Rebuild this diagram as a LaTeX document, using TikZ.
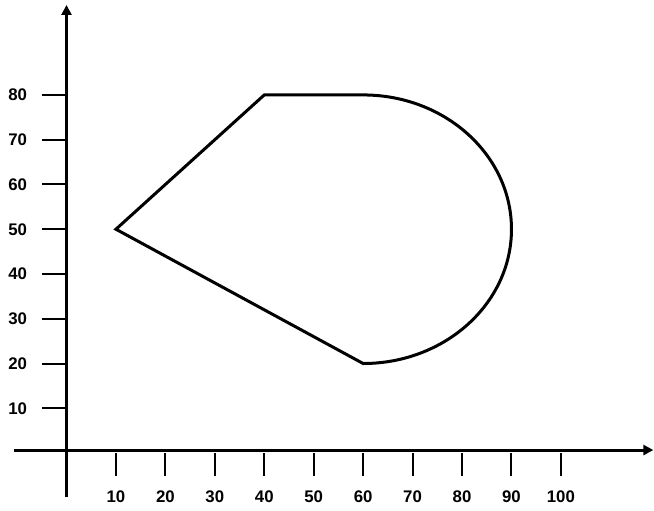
\documentclass[tikz,border=0pt]{standalone}
\usepackage{fontspec}
\setmainfont{Liberation Sans}
\usetikzlibrary{arrows.meta}

\begin{document}
\begin{tikzpicture}[
    x=2.472pt, y=2.238pt,
    >={Triangle[length=5pt,width=5pt]},
    axisline/.style={line width=1.5pt},
    tickmark/.style={line width=1pt},
    ticklabel/.style={font=\fontsize{8.4}{10}\selectfont\bfseries, inner sep=0pt},
    shapeline/.style={line width=1.5pt, line join=miter}
]
\useasboundingbox (-13.45,-12.73) rectangle (118.83,101.21);

% axes
\coordinate (ybot) at (0,-9.83);
\coordinate (ytop) at (0,100.1);
\coordinate (xleft) at (-10.6,0.67);
\coordinate (xright) at (118.7,0.67);
\draw[axisline,->] (ybot) -- (ytop);
\draw[axisline,->] (xleft) -- (xright);

% ticks and labels
\foreach \v in {10,20,...,100} {
  \draw[tickmark] (\v,-0.1) -- (\v,-5.1);
  \node[ticklabel] (xl\v) at (\v,-9.8) {\v};
}
\foreach \v in {10,20,...,80} {
  \draw[tickmark] (-4.95,\v) -- (0,\v);
  \node[ticklabel, anchor=east] (yl\v) at (-7.9,\v) {\v};
}

% the region
\coordinate (pleft) at (10,50);
\coordinate (ptopl) at (40,80);
\coordinate (ptopr) at (60,80);
\draw[shapeline] (pleft) -- (ptopl) -- (ptopr) arc[start angle=90, end angle=-90, radius=30] -- cycle;
\end{tikzpicture}
\end{document}
